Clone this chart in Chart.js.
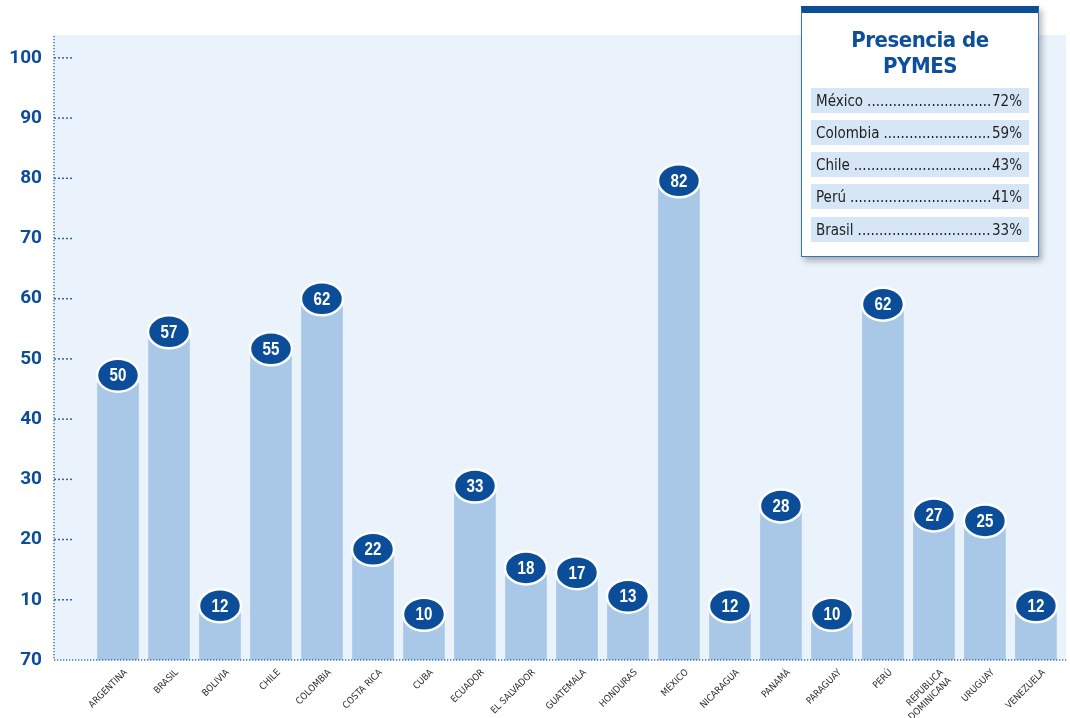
<!DOCTYPE html>
<html><head><meta charset="utf-8">
<script src="https://cdn.jsdelivr.net/npm/chart.js@4"></script>
<style>
html,body{margin:0;padding:0;background:#fff;}
#wrap{position:relative;width:1070px;height:718px;overflow:hidden;}
#c{position:absolute;left:0;top:0;}
#box{position:absolute;left:801px;top:6px;width:238px;height:251px;background:#fff;border:1.5px solid #3a74b6;border-top:7px solid #0d4d96;box-shadow:3px 4px 6px rgba(0,0,0,0.28);box-sizing:border-box;}
#title{position:absolute;left:0;right:0;top:14px;text-align:center;font-family:'DejaVu Sans Condensed','Liberation Sans Narrow','Liberation Sans',sans-serif;font-weight:bold;font-size:22px;line-height:26px;color:#0d4f9c;letter-spacing:-0.5px;}
.row{position:absolute;left:9px;width:218px;height:25px;background:#d6e6f6;display:flex;align-items:center;font-family:'DejaVu Sans Condensed','Liberation Sans Narrow','Liberation Sans',sans-serif;font-size:15px;color:#1e1e1e;box-sizing:border-box;padding:0 7px 0 5px;white-space:nowrap;}
.row .lead{flex:1;overflow:hidden;margin:0 2px 0 4px;letter-spacing:0;}
</style>
</head><body>
<div id="wrap">
<canvas id="c" width="1070" height="718"></canvas>
<div id="box"><div id="title"></div></div>
</div>
<script>
const categories = ['ARGENTINA','BRASIL','BOLIVIA','CHILE','COLOMBIA','COSTA RICA','CUBA','ECUADOR','EL SALVADOR','GUATEMALA','HONDURAS','MÉXICO','NICARAGUA','PANAMÁ','PARAGUAY','PERÚ',['REPUBLICA','DOMINICANA'],'URUGUAY','VENEZUELA'];
const badgeValues = [50,57,12,55,62,22,10,33,18,17,13,82,12,28,10,62,27,25,12];
const barHeights = [46.3,53.5,8,50.7,59,17.4,6.6,27.9,14.3,13.5,9.6,78.6,8,24.6,6.6,58.1,23.1,22.1,8];
const yTickLabels = ['70','10','20','30','40','50','60','70','80','90','100'];
const boxTitle = ['Presencia de','PYMES'];
const boxCountries = ['México','Colombia','Chile','Perú','Brasil'];
const boxShares = ['72%','59%','43%','41%','33%'];

// legend box (HTML text)
const box = document.getElementById('box');
document.getElementById('title').innerHTML = boxTitle.join('<br>');
const rowTops = [75,107,139,171,204];
boxCountries.forEach((name,i)=>{
  const r = document.createElement('div');
  r.className='row'; r.style.top = rowTops[i]+'px';
  const a = document.createElement('span'); a.textContent = name;
  const l = document.createElement('span'); l.className='lead'; l.textContent = '.'.repeat(80);
  const b = document.createElement('span'); b.textContent = boxShares[i];
  r.appendChild(a); r.appendChild(l); r.appendChild(b);
  box.appendChild(r);
});

const condensed = "'DejaVu Sans Condensed','Liberation Sans Narrow','Liberation Sans',sans-serif";

const bgPlugin = {
  id:'bg',
  beforeDraw(chart){
    const {ctx, chartArea:a} = chart;
    ctx.save(); ctx.fillStyle='#eaf2fb';
    ctx.fillRect(a.left, a.top, a.right-a.left, a.bottom-a.top);
    ctx.restore();
  }
};

const axisPlugin = {
  id:'axes',
  afterDatasetsDraw(chart){
    const {ctx, chartArea:a, scales} = chart;
    ctx.save();
    ctx.strokeStyle='#3a74b8'; ctx.lineWidth=1.5; ctx.setLineDash([1.3,1.7]);
    ctx.beginPath(); ctx.moveTo(a.left, a.top+1); ctx.lineTo(a.left, a.bottom); ctx.stroke();
    ctx.beginPath(); ctx.moveTo(a.left, a.bottom); ctx.lineTo(a.right+2, a.bottom); ctx.stroke();
    ctx.setLineDash([2,2]); ctx.strokeStyle='#2c66ad';
    scales.y.ticks.forEach(t=>{
      if (t.value===0) return;
      const y = scales.y.getPixelForValue(t.value);
      ctx.beginPath(); ctx.moveTo(a.left, y); ctx.lineTo(a.left+20, y); ctx.stroke();
    });
    ctx.restore();
    // badges
    const meta = chart.getDatasetMeta(0);
    meta.data.forEach((el,i)=>{
      const cx = el.x, cy = el.y - 6;
      ctx.save();
      ctx.beginPath(); ctx.ellipse(cx, cy, 21, 16.5, 0, 0, Math.PI*2);
      ctx.fillStyle='#0c4d9a'; ctx.fill();
      ctx.lineWidth=2.5; ctx.strokeStyle='#ffffff'; ctx.stroke();
      ctx.fillStyle='#ffffff';
      ctx.font = "bold 18px 'Liberation Sans', Arial, sans-serif";
      ctx.textAlign='center'; ctx.textBaseline='middle';
      ctx.translate(cx, cy+1); ctx.scale(0.84,1);
      ctx.fillText(String(badgeValues[i]), 0, 0);
      ctx.restore();
    });
  }
};

new Chart(document.getElementById('c'), {
  type:'bar',
  data:{
    datasets:[{
      data: barHeights.map((v,i)=>({x:i, y:v})),
      backgroundColor:'#a9c8e8',
      barThickness:41,
      borderWidth:0
    }]
  },
  options:{
    responsive:false,
    animation:false,
    events:[],
    layout:{padding:{top:35,right:4,left:0,bottom:0}},
    plugins:{legend:{display:false}, tooltip:{enabled:false}},
    scales:{
      x:{
        type:'linear', min:-1.255, max:18.59, offset:false,
        afterBuildTicks(s){ s.ticks = categories.map((_,i)=>({value:i})); },
        afterFit(s){ s.height = 58; },
        grid:{display:false, drawTicks:false, offset:false},
        border:{display:false},
        ticks:{
          autoSkip:false, minRotation:45, maxRotation:45, padding:7, labelOffset:8,
          color:'#2e2e2e', font:{family:condensed, size:9.5},
          callback(v){ return categories[v]; }
        }
      },
      y:{
        min:0, max:103.8,
        afterBuildTicks(s){ s.ticks = yTickLabels.map((_,i)=>({value:i*10})); },
        afterFit(s){ s.width = 54; },
        grid:{display:false, drawTicks:false},
        border:{display:false},
        ticks:{
          padding:12, color:'#0c4d9a',
          font:{family:'Roboto', weight:'bold', size:19},
          callback(v){ return yTickLabels[Math.round(v/10)]; }
        }
      }
    }
  },
  plugins:[bgPlugin, axisPlugin]
});
</script>
</body></html>
